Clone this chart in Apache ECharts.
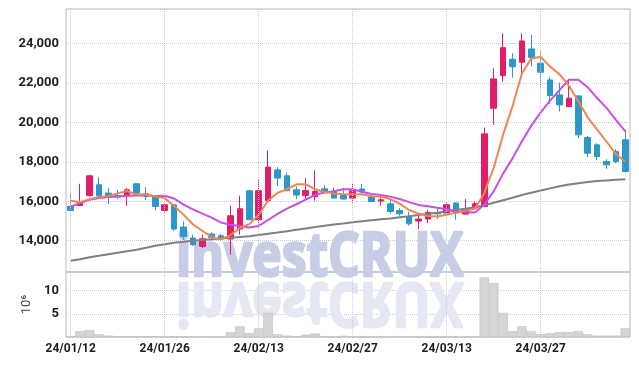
<!DOCTYPE html>
<html>
<head>
<meta charset="utf-8">
<script src="https://cdn.jsdelivr.net/npm/echarts@6/dist/echarts.min.js"></script>
<style>
  html, body { margin: 0; padding: 0; background: #fff; }
  #main { width: 639px; height: 366px; }
</style>
</head>
<body>
<div id="main"></div>
<script>
var dates = ['24/01/12', '24/01/15', '24/01/16', '24/01/17', '24/01/18', '24/01/19', '24/01/22', '24/01/23', '24/01/24', '24/01/25',
    '24/01/26', '24/01/29', '24/01/30', '24/01/31', '24/02/01', '24/02/02', '24/02/05', '24/02/06', '24/02/07', '24/02/08',
    '24/02/13', '24/02/14', '24/02/15', '24/02/16', '24/02/19', '24/02/20', '24/02/21', '24/02/22', '24/02/23', '24/02/26',
    '24/02/27', '24/02/28', '24/02/29', '24/03/04', '24/03/05', '24/03/06', '24/03/07', '24/03/08', '24/03/11', '24/03/12',
    '24/03/13', '24/03/14', '24/03/15', '24/03/18', '24/03/19', '24/03/20', '24/03/21', '24/03/22', '24/03/25', '24/03/26',
    '24/03/27', '24/03/28', '24/03/29', '24/04/01', '24/04/02', '24/04/03', '24/04/04', '24/04/05', '24/04/08', '24/04/09'];

var opens = [15737, 15787, 16294, 16835, 16415, 16294, 16278, 16886, 16380, 16278,
    15534, 15823, 14694, 14137, 13712, 14339, 14253, 14086, 14592, 16532,
    15063, 16025, 17595, 17291, 16582, 16294, 16243, 16633, 16466, 16314,
    16162, 16618, 16213, 16010, 15873, 15534, 15230, 14998, 15099, 15433,
    15403, 15909, 15352, 15656, 15737, 20719, 22369, 23200, 23047, 23721,
    22997, 22152, 21392, 20800, 21341, 19230, 18860, 18015, 18521, 19114];
var closes = [15534, 15975, 17291, 16278, 16243, 16213, 16582, 16415, 16243, 15737,
    15823, 14592, 14218, 13798, 14101, 14167, 14101, 15266, 15620, 15063,
    16532, 17732, 17175, 16532, 16314, 16547, 16496, 16481, 16162, 16111,
    16532, 16481, 15990, 16076, 15484, 15367, 14861, 15099, 15433, 15367,
    15823, 15403, 15605, 15873, 19418, 22202, 23787, 22825, 24126, 23281,
    22541, 21357, 20886, 21225, 19367, 18440, 18268, 17848, 18015, 17509];
var lows = [15520, 15772, 16228, 16162, 15858, 16111, 15772, 16400, 16076, 15534,
    15433, 14506, 14051, 13747, 13630, 14051, 14015, 13291, 14304, 15063,
    14811, 15924, 16785, 16532, 16111, 16076, 16025, 16460, 16140, 16100,
    15939, 16380, 15980, 15772, 15367, 15266, 14760, 14592, 14896, 15099,
    15380, 15063, 15330, 15640, 15720, 19873, 22065, 22268, 22268, 22825,
    21812, 20937, 20547, 20790, 19200, 18238, 18101, 17645, 17934, 17458];
var highs = [16415, 16886, 17342, 17225, 16668, 16582, 16668, 16921, 16719, 16278,
    15873, 15823, 14977, 14304, 14304, 14420, 14355, 15787, 16278, 16582,
    17089, 18572, 17732, 17458, 16749, 17175, 17570, 16810, 16668, 16683,
    16921, 16886, 16329, 16213, 16111, 15656, 15468, 15266, 15570, 15706,
    15939, 15940, 16111, 15990, 19737, 22744, 24516, 23504, 24516, 24430,
    23635, 22288, 22015, 22116, 21392, 19316, 18947, 18137, 18643, 19620];

// moving averages
var ma5 = [16030, 15950, 16100, 16210, 16264, 16400, 16521, 16346, 16339, 16238,
    16160, 15762, 15323, 14834, 14506, 14175, 14077, 14287, 14651, 14843,
    15316, 16043, 16424, 16607, 16857, 16860, 16613, 16474, 16400, 16359,
    16356, 16353, 16255, 16238, 16113, 15880, 15556, 15377, 15249, 15225,
    15317, 15425, 15526, 15614, 16424, 17700, 19377, 20821, 22472, 23244,
    23312, 22826, 22438, 21858, 21075, 20255, 19637, 19030, 18388, 18016];
var ma10 = [15737, 15909, 16076, 16162, 16213, 16243, 16278, 16294, 16304, 16251,
    16280, 16142, 15834, 15586, 15372, 15168, 14920, 14805, 14742, 14675,
    14746, 15060, 15356, 15629, 15850, 16088, 16328, 16449, 16503, 16608,
    16608, 16483, 16365, 16319, 16236, 16118, 15955, 15816, 15743, 15669,
    15598, 15490, 15452, 15432, 15825, 16508, 17401, 18174, 19043, 19834,
    20506, 21102, 21630, 22165, 22160, 21784, 21232, 20734, 20123, 19546];
var maLong = [12990, 13060, 13165, 13240, 13317, 13393, 13468, 13544, 13646, 13747,
    13823, 13899, 13949, 14000, 14036, 14071, 14112, 14152, 14193, 14233,
    14294, 14355, 14415, 14481, 14557, 14623, 14694, 14760, 14820, 14871,
    14932, 14982, 15033, 15084, 15129, 15185, 15241, 15301, 15362, 15423,
    15489, 15554, 15625, 15701, 15792, 15924, 16051, 16177, 16314, 16430,
    16542, 16653, 16759, 16846, 16916, 16977, 17023, 17058, 17089, 17119];

// volume, millions
var volumes = [0.2, 1.25, 1.5, 0.6, 0.3, 0.15, 0.15, 0.15, 0.15, 0.15,
    0.05, 0.1, 0.1, 0.03, 0.1, 0.05, 0.05, 1.0, 2.3, 0.8,
    1.85, 5.2, 0.6, 0.3, 0.15, 0.5, 0.75, 0.15, 0.15, 0.25,
    0.15, 0.15, 0.1, 0.1, 0.05, 0.1, 0.1, 0.05, 0.05, 0.1,
    0.05, 0.1, 0.05, 0.1, 12.8, 11.6, 5.2, 1.25, 2.3, 1.25,
    0.6, 0.8, 1.05, 1.05, 1.25, 0.6, 0.3, 0.3, 0.3, 1.85];

var labelDates = ['24/01/12', '24/01/26', '24/02/13', '24/02/27', '24/03/13', '24/03/27'];

var candles = [];
for (var i = 0; i < dates.length; i++) {
    candles.push([opens[i], closes[i], lows[i], highs[i]]);
}

var gridColor = '#c6cbdc';
var vLines = {
    silent: true,
    symbol: 'none',
    label: { show: false },
    lineStyle: { type: 'dotted', color: gridColor, width: 1 },
    data: labelDates.map(function (d) { return { xAxis: d }; })
};

var chart = echarts.init(document.getElementById('main'));

option = {
    animation: false,
    textStyle: { fontFamily: 'Roboto' },
    grid: [
        { left: 66, right: 9, top: 9, height: 263, show: true, borderColor: '#b9b9b9', borderWidth: 1 },
        { left: 66, right: 9, top: 272, height: 65, show: true, borderColor: '#b9b9b9', borderWidth: 1 }
    ],
    graphic: [
        {
            type: 'text', x: 176, y: 289, z: 1, scaleX: 0.83,
            style: {
                text: 'investCRUX', font: 'bold 60px "Open Sans"', fill: '#c6cde5',
                stroke: '#c6cde5', lineWidth: 2.5, verticalAlign: 'bottom'
            }
        },
        {
            type: 'text', x: 176, y: 270, z: 1, scaleX: 0.83, scaleY: -1,
            style: {
                text: 'investCRUX', font: 'bold 60px "Open Sans"', fill: '#e5e8f3',
                stroke: '#e5e8f3', lineWidth: 2.5, verticalAlign: 'bottom'
            }
        }
    ],
    xAxis: [
        {
            type: 'category', gridIndex: 0, data: dates,
            axisLine: { show: false }, axisTick: { show: false },
            axisLabel: { show: false }, splitLine: { show: false }
        },
        {
            type: 'category', gridIndex: 1, data: dates,
            axisLine: { show: false }, axisTick: { show: false },
            axisLabel: { interval: 9, fontWeight: 'bold', fontSize: 12, color: '#1e1e1e', margin: 6 },
            splitLine: { show: false }
        }
    ],
    yAxis: [
        {
            type: 'value', gridIndex: 0, min: 12415, max: 25746, splitNumber: 6,
            axisLine: { show: false }, axisTick: { show: false },
            axisLabel: {
                fontWeight: 'bold', fontSize: 13, color: '#1e1e1e', margin: 7,
                showMinLabel: false, showMaxLabel: false,
                formatter: function (v) { return v.toLocaleString('en-US'); }
            },
            splitLine: { lineStyle: { type: 'dotted', color: gridColor } }
        },
        {
            type: 'value', gridIndex: 1, min: 0, max: 14, interval: 5,
            axisLine: { show: false }, axisTick: { show: false },
            axisLabel: { fontWeight: 'bold', fontSize: 13, color: '#1e1e1e', margin: 7, showMinLabel: false, showMaxLabel: false },
            splitLine: { lineStyle: { type: 'dotted', color: gridColor } },
            name: '10\u2076', nameLocation: 'middle', nameGap: 30, nameRotate: 90,
            nameTextStyle: { fontSize: 13, color: '#444' }
        }
    ],
    series: [
        {
            type: 'line', xAxisIndex: 0, yAxisIndex: 0, data: [], z: 1,
            markLine: vLines
        },
        {
            type: 'line', xAxisIndex: 1, yAxisIndex: 1, data: [], z: 1,
            markLine: vLines
        },
        {
            name: 'price', type: 'candlestick', xAxisIndex: 0, yAxisIndex: 0,
            data: candles, barWidth: '64%',
            itemStyle: {
                color: '#e31c6c', color0: '#2e97c9',
                borderColor: '#e31c6c', borderColor0: '#2e97c9', borderWidth: 1
            }
        },
        {
            name: 'MA long', type: 'line', xAxisIndex: 0, yAxisIndex: 0, data: maLong,
            showSymbol: false, lineStyle: { color: '#808080', width: 2 }
        },
        {
            name: 'MA10', type: 'line', xAxisIndex: 0, yAxisIndex: 0, data: ma10,
            showSymbol: false, lineStyle: { color: '#c94ee8', width: 2 }
        },
        {
            name: 'MA5', type: 'line', xAxisIndex: 0, yAxisIndex: 0, data: ma5,
            showSymbol: false, lineStyle: { color: '#ef8650', width: 2 }
        },
        {
            name: 'volume', type: 'bar', xAxisIndex: 1, yAxisIndex: 1, data: volumes,
            barWidth: '100%',
            itemStyle: { color: '#d5d5d5', borderColor: '#b8b8b8', borderWidth: 0.5 }
        }
    ]
};

chart.setOption(option);
</script>
</body>
</html>
